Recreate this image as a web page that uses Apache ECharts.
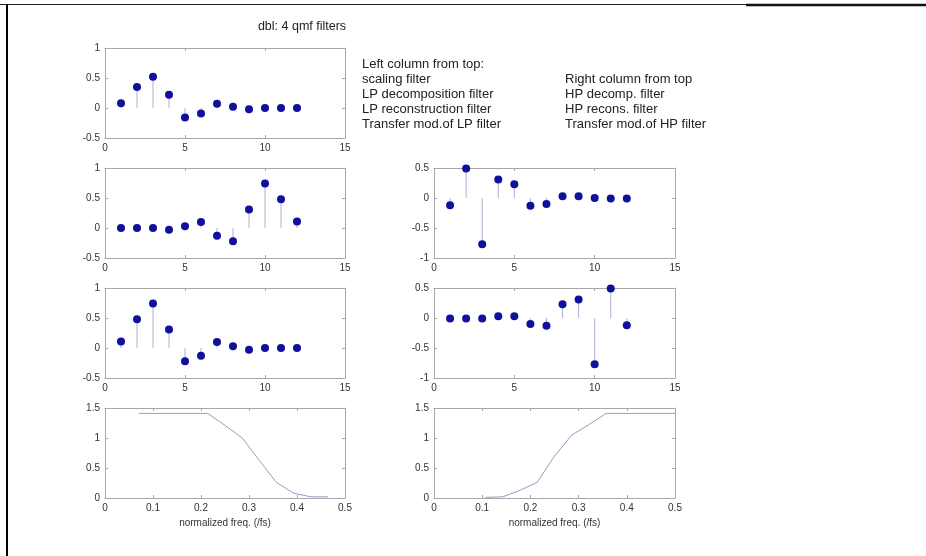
<!DOCTYPE html>
<html>
<head>
<meta charset="utf-8">
<script src="https://cdn.jsdelivr.net/npm/echarts@6/dist/echarts.min.js"></script>
<style>
  html, body { margin: 0; padding: 0; background: #fff; }
  #chart { width: 926px; height: 556px; }
</style>
</head>
<body>
<div id="chart"></div>
<script>
  // filter taps
  const n = [1, 2, 3, 4, 5, 6, 7, 8, 9, 10, 11, 12];
  const scalingFilter = [0.08, 0.35, 0.52, 0.22, -0.16, -0.09, 0.07, 0.02, -0.02, 0.00, 0.00, 0.00];
  const lpDecomp = [0.00, 0.00, 0.00, -0.03, 0.03, 0.10, -0.13, -0.22, 0.31, 0.74, 0.48, 0.11];
  const lpRecon = [0.11, 0.48, 0.74, 0.31, -0.22, -0.13, 0.10, 0.03, -0.03, 0.00, 0.00, 0.00];
  const hpDecomp = [-0.12, 0.49, -0.77, 0.31, 0.23, -0.13, -0.10, 0.03, 0.03, 0.00, -0.01, -0.01];
  const hpRecon = [-0.01, -0.01, -0.01, 0.03, 0.03, -0.10, -0.13, 0.23, 0.31, -0.77, 0.49, -0.12];

  // transfer modulus
  const lpFreq = [0.071, 0.107, 0.143, 0.179, 0.214, 0.25, 0.286, 0.321, 0.357, 0.393, 0.429, 0.464];
  const lpMag = [1.41, 1.41, 1.41, 1.41, 1.41, 1.21, 1.0, 0.63, 0.26, 0.08, 0.02, 0.02];
  const hpFreq = [0.107, 0.143, 0.179, 0.214, 0.25, 0.286, 0.321, 0.357, 0.393, 0.429, 0.464, 0.5];
  const hpMag = [0.01, 0.02, 0.13, 0.26, 0.70, 1.05, 1.22, 1.41, 1.41, 1.41, 1.41, 1.41];

  const tapTicks = [0, 15, 5];
  const freqTicks = [0, 0.5, 0.1];

  const chart = echarts.init(document.getElementById('chart'));

  const font = 'Liberation Sans, Arial, sans-serif';
  const boxColor = '#a8a8a8';
  const grid = [], xAxis = [], yAxis = [], series = [];

  function pair(xs, ys) {
    return xs.map((x, i) => [x, ys[i]]);
  }

  function panel(box, xr, yr, xname) {
    const g = grid.length;
    grid.push({ left: box[0], top: box[1], width: box[2], height: box[3] });
    const line = { show: true, onZero: false, lineStyle: { color: boxColor, width: 1 } };
    const tick = { show: true, inside: true, length: 3, lineStyle: { color: boxColor } };
    const label = { color: '#333', fontSize: 10, fontFamily: font };
    xAxis.push({
      type: 'value', gridIndex: g, position: 'bottom', min: xr[0], max: xr[1], interval: xr[2],
      axisLine: line, axisTick: tick, splitLine: { show: false },
      axisLabel: Object.assign({ margin: 5 }, label),
      name: xname || '', nameLocation: 'middle', nameGap: 20,
      nameTextStyle: { color: '#333', fontSize: 10, fontFamily: font }
    });
    xAxis.push({
      type: 'value', gridIndex: g, position: 'top', min: xr[0], max: xr[1], interval: xr[2],
      axisLine: line, axisTick: tick, splitLine: { show: false }, axisLabel: { show: false }
    });
    yAxis.push({
      type: 'value', gridIndex: g, position: 'left', min: yr[0], max: yr[1], interval: 0.5,
      axisLine: line, axisTick: tick, splitLine: { show: false },
      axisLabel: Object.assign({ margin: 5 }, label)
    });
    yAxis.push({
      type: 'value', gridIndex: g, position: 'right', min: yr[0], max: yr[1], interval: 0.5,
      axisLine: line, axisTick: tick, splitLine: { show: false }, axisLabel: { show: false }
    });
    return 2 * g;
  }

  function stems(box, values, yr) {
    const ax = panel(box, tapTicks, yr);
    const pts = pair(n, values);
    series.push({
      type: 'bar', xAxisIndex: ax, yAxisIndex: ax, barWidth: 1, data: pts,
      itemStyle: { color: '#b0b0d2' }, silent: true
    });
    series.push({
      type: 'scatter', xAxisIndex: ax, yAxisIndex: ax, symbolSize: 8, data: pts,
      itemStyle: { color: '#10109a', opacity: 1 }, silent: true
    });
  }

  function transfer(box, xs, ys) {
    const ax = panel(box, freqTicks, [0, 1.5], 'normalized freq. (/fs)');
    series.push({
      type: 'line', xAxisIndex: ax, yAxisIndex: ax, data: pair(xs, ys),
      showSymbol: false, lineStyle: { color: '#9a9ac2', width: 1 }, silent: true
    });
  }

  stems([105, 48, 240, 90], scalingFilter, [-0.5, 1]);
  stems([105, 168, 240, 90], lpDecomp, [-0.5, 1]);
  stems([105, 288, 240, 90], lpRecon, [-0.5, 1]);
  transfer([105, 408, 240, 90], lpFreq, lpMag);
  stems([434, 168, 241, 90], hpDecomp, [-1, 0.5]);
  stems([434, 288, 241, 90], hpRecon, [-1, 0.5]);
  transfer([434, 408, 241, 90], hpFreq, hpMag);

  const leftNotes = ['Left column from top:', 'scaling filter', 'LP decomposition filter',
    'LP reconstruction filter', 'Transfer mod.of LP filter'];
  const rightNotes = ['Right column from top', 'HP decomp. filter', 'HP recons. filter',
    'Transfer mod.of HP filter'];

  const graphic = [
    { type: 'line', shape: { x1: 0, y1: 4.5, x2: 746, y2: 4.5 }, style: { stroke: '#222', lineWidth: 1 } },
    { type: 'line', shape: { x1: 746, y1: 5, x2: 926, y2: 5 }, style: { stroke: '#111', lineWidth: 2.5 } },
    { type: 'line', shape: { x1: 7, y1: 4, x2: 7, y2: 556 }, style: { stroke: '#000', lineWidth: 2 } },
    { type: 'text', x: 302, y: 27, style: { text: 'dbl: 4 qmf filters', fill: '#222', fontSize: 12.5,
      fontFamily: font, align: 'center', verticalAlign: 'middle' } }
  ];
  leftNotes.forEach((t, i) => graphic.push({ type: 'text', x: 362, y: 64 + i * 15,
    style: { text: t, fill: '#222', fontSize: 13, fontFamily: font, verticalAlign: 'middle' } }));
  rightNotes.forEach((t, i) => graphic.push({ type: 'text', x: 565, y: 79 + i * 15,
    style: { text: t, fill: '#222', fontSize: 13, fontFamily: font, verticalAlign: 'middle' } }));

  const option = {
    backgroundColor: '#fff',
    animation: false,
    grid: grid,
    xAxis: xAxis,
    yAxis: yAxis,
    series: series,
    graphic: graphic
  };

  chart.setOption(option);
</script>
</body>
</html>
